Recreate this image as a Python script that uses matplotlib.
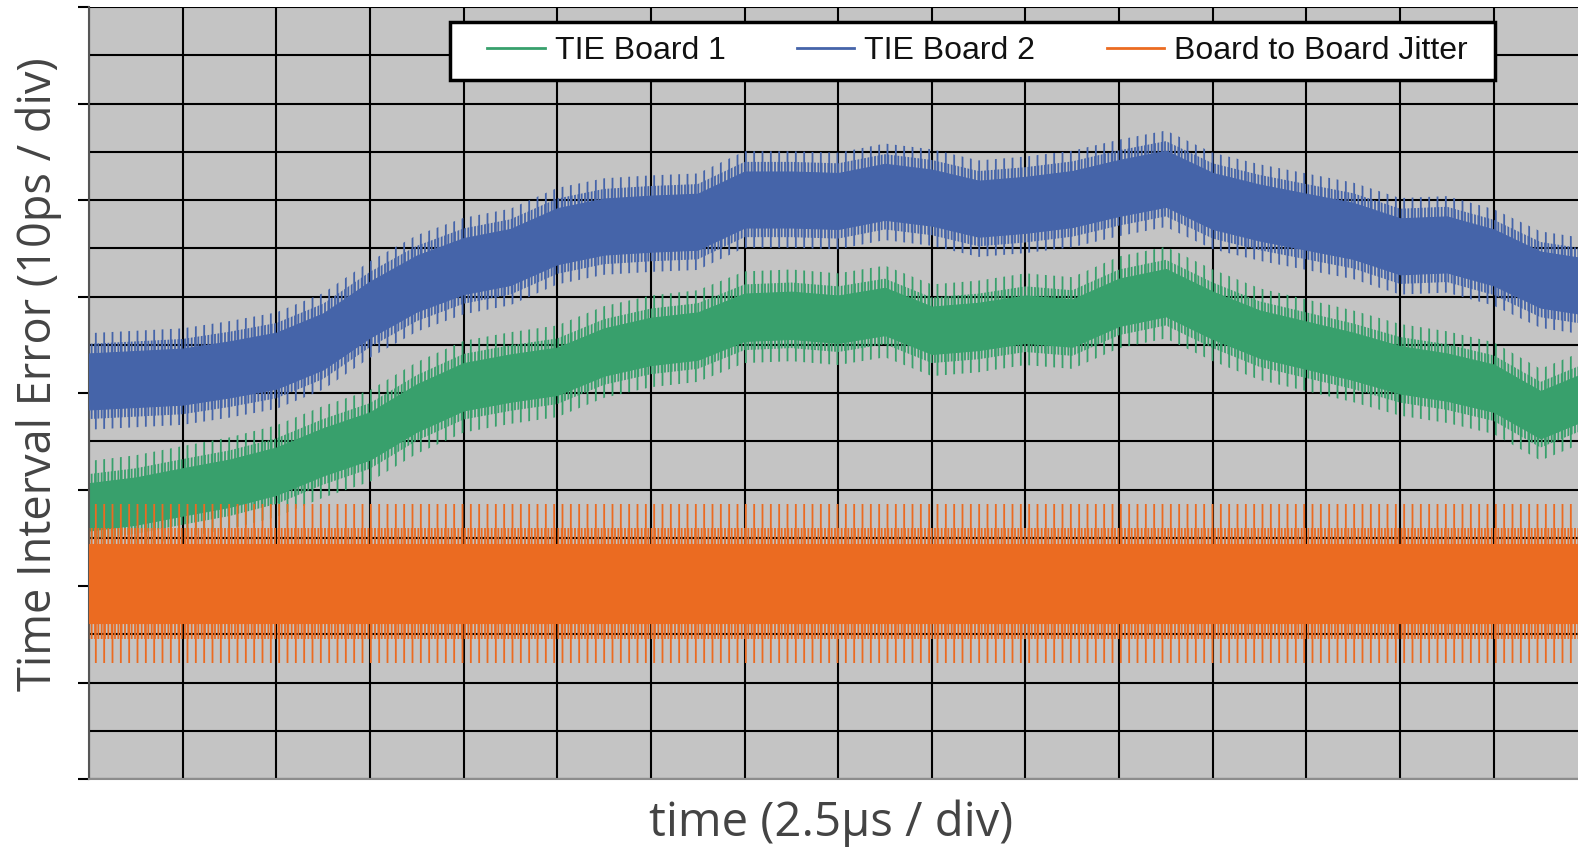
import numpy as np
import matplotlib
matplotlib.use("Agg")
import matplotlib.pyplot as plt
from matplotlib.lines import Line2D
from matplotlib.patches import Rectangle

# ---------------- data (divisions) ----------------
x_div = [0, 0.5, 1, 1.5, 2, 2.5, 3, 3.5, 4, 4.5, 5, 5.5, 6, 6.5, 7, 7.5, 8,
         8.5, 9, 9.5, 10, 10.5, 11, 11.5, 12, 12.5, 13, 13.5, 14, 14.5, 15, 15.5, 15.9]

# TIE Board 2 (blue) centre of the trace
board2_center = [8.24, 8.29, 8.34, 8.49, 8.67, 9.07, 9.73, 10.27, 10.63, 10.82, 11.25,
                 11.45, 11.51, 11.55, 12.01, 12.01, 11.98, 12.17, 12.05, 11.82, 11.90,
                 12.02, 12.25, 12.44, 11.98, 11.74, 11.55, 11.36, 11.04, 11.08, 10.81,
                 10.35, 10.23]
# TIE Board 1 (green) centre of the trace
board1_center = [5.64, 5.76, 5.95, 6.13, 6.38, 6.78, 7.11, 7.69, 8.13, 8.31, 8.45,
                 8.85, 9.07, 9.18, 9.57, 9.61, 9.53, 9.69, 9.30, 9.38, 9.53, 9.45,
                 9.88, 10.08, 9.61, 9.22, 8.99, 8.76, 8.48, 8.33, 8.10, 7.55, 7.87]
# Board-to-board jitter (orange) centre
jitter_x = [0, 15.9]
jitter_center = [4.05, 4.05]

# half-widths of the dense core, inner spike fringe and outer spike fringe
board2_spread = [0.58, 0.78, 1.0]
board1_spread = [0.49, 0.68, 0.95]
jitter_spread = [0.82, 1.15, 1.65]

labels = ["TIE Board 1", "TIE Board 2", "Board to Board Jitter"]
colors = ["#38a06c", "#4564a9", "#eb6b21"]

xlabel = "time (2.5\u00b5s / div)"
ylabel = "Time Interval Error (10ps / div)"

label_family = ["Open Sans", "DejaVu Sans"]
plt.rcParams["hatch.linewidth"] = 1.3

W, H = 1578, 849
fig = plt.figure(figsize=(W / 100, H / 100), dpi=100)
ax = fig.add_axes([89 / W, (H - 779) / H, (W - 89) / W, 772 / H])
ax.set_facecolor("#c4c4c4")
ax.set_xlim(0, 15.9)
ax.set_ylim(0, 16)


def draw_trace(xs, center, spread, color, z):
    xs = np.asarray(xs, float)
    c = np.asarray(center, float)
    core, inner, outer = spread
    ax.fill_between(xs, c - outer, c + outer, facecolor="none", edgecolor=color,
                    linewidth=0, hatch="||", zorder=z)
    ax.fill_between(xs, c - inner, c + inner, facecolor="none", edgecolor=color,
                    linewidth=0, hatch="|||||", zorder=z + 0.1)
    ax.fill_between(xs, c - core, c + core, facecolor=color, edgecolor=color,
                    linewidth=0.8, zorder=z + 0.2)


draw_trace(x_div, board1_center, board1_spread, colors[0], 2)
draw_trace(x_div, board2_center, board2_spread, colors[1], 3)
draw_trace(jitter_x, jitter_center, jitter_spread, colors[2], 4)

# grid and ticks
ax.set_axisbelow(True)
ax.set_xticks(np.arange(0, 16))
ax.set_yticks(np.arange(0, 17, 2))
ax.set_yticks(np.arange(1, 16, 2), minor=True)
ax.grid(which="both", color="black", linewidth=1.5)
ax.tick_params(axis="x", length=0, labelbottom=False)
ax.tick_params(axis="y", which="major", length=8, width=1.5, color="black",
               direction="out", labelleft=False)
ax.tick_params(axis="y", which="minor", length=0)
for s in ["top", "right"]:
    ax.spines[s].set_visible(False)
ax.spines["left"].set_color("#555555")
ax.spines["left"].set_linewidth(1.5)
ax.spines["bottom"].set_color("#8c8c8c")
ax.spines["bottom"].set_linewidth(1.5)

# labels
ax.set_xlabel(xlabel, fontsize=34, color="#444444", family=label_family, va="center")
ax.xaxis.set_label_coords(0.4985, -0.057)
ax.set_ylabel(ylabel, fontsize=32.5, color="#444444", family=label_family, va="center")
ax.yaxis.set_label_coords(-0.0335, 0.5246)

# legend box (frame) and frameless legend content inside it
fig.patches.append(Rectangle((450 / W, 1 - 80 / H), (1495 - 450) / W, 58 / H,
                             transform=fig.transFigure, facecolor="white",
                             edgecolor="black", linewidth=2.5, zorder=5))
handles = [Line2D([], [], color=c, lw=2) for c in colors]
leg = fig.legend(handles, labels, ncol=3, loc="center",
                 bbox_to_anchor=(487 / W, 1 - 80 / H, (1468 - 487) / W, 58 / H),
                 mode="expand", borderaxespad=0, frameon=False,
                 borderpad=0, handlelength=1.8, handletextpad=0.32,
                 columnspacing=1.0,
                 prop={"family": "Liberation Sans", "size": 23})
leg.set_zorder(6)
for t in leg.get_texts():
    t.set_color("#111111")

fig.savefig("out.png", dpi=100)
